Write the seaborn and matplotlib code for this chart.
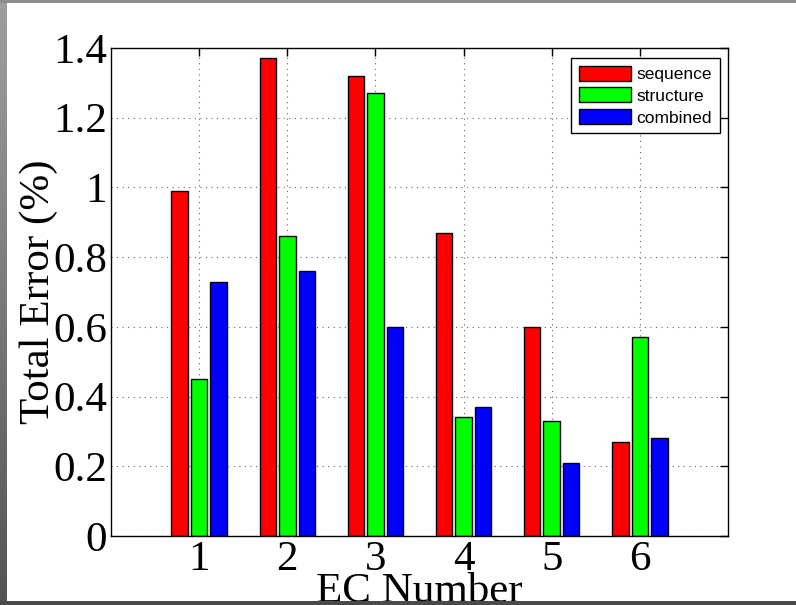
import numpy as np
import pandas as pd
import matplotlib
matplotlib.use("Agg")
import matplotlib.pyplot as plt
import seaborn as sns

# Total classification error per EC class, for each feature set
ec_numbers = ["1", "2", "3", "4", "5", "6"]
sequence = [0.99, 1.37, 1.32, 0.87, 0.60, 0.27]
structure = [0.45, 0.86, 1.27, 0.34, 0.33, 0.57]
combined = [0.73, 0.76, 0.60, 0.37, 0.21, 0.28]
series_names = ["sequence", "structure", "combined"]
series_colors = ["#ff0000", "#00ff00", "#0000ff"]
y_ticks = [0, 0.2, 0.4, 0.6, 0.8, 1.0, 1.2, 1.4]
y_tick_labels = ["0", "0.2", "0.4", "0.6", "0.8", "1", "1.2", "1.4"]

df = pd.DataFrame({
    "EC": ec_numbers * 3,
    "error": sequence + structure + combined,
    "features": [s for s in series_names for _ in ec_numbers],
})

sns.set_style("white")
plt.rcParams.update({
    "text.color": "black",
    "axes.labelcolor": "black",
    "xtick.color": "black",
    "ytick.color": "black",
})
serif = ["Liberation Serif", "DejaVu Serif"]
sans = ["Liberation Sans", "DejaVu Sans"]

fig = plt.figure(figsize=(7.96, 6.05), dpi=100, facecolor="white")
W, H = 796, 605
ax = fig.add_axes([111 / W, 1 - 536 / H, (728 - 111) / W, (536 - 48) / H])

sns.barplot(data=df, x="EC", y="error", hue="features", order=ec_numbers,
            hue_order=series_names, palette=series_colors, width=0.664,
            gap=0.154, edgecolor="black", linewidth=1.0, saturation=1,
            ax=ax, legend=True)

ax.set_xlim(-1, 6)
ax.set_ylim(0, 1.4)
ax.set_yticks(y_ticks)
ax.set_yticklabels(y_tick_labels)
ax.set_xticks(range(len(ec_numbers)))
ax.set_xticklabels(ec_numbers)
for lbl in ax.get_xticklabels() + ax.get_yticklabels():
    lbl.set_fontfamily(serif)
    lbl.set_fontsize(31)
    lbl.set_color("black")

ax.tick_params(direction="in", length=6, width=1, top=True, right=True,
               color="black", pad=3)
ax.grid(True, linestyle=(0, (1, 4)), color="#666666", linewidth=0.8)
ax.set_axisbelow(True)
for sp in ax.spines.values():
    sp.set_visible(True)
    sp.set_color("black")
    sp.set_linewidth(1.0)

ax.set_xlabel("EC Number", fontfamily=serif, fontsize=31, color="black")
ax.set_ylabel("Total Error (%)", fontfamily=serif, fontsize=31, color="black")
ax.xaxis.set_label_coords(0.5, -0.075)
ax.yaxis.set_label_coords(-0.086, 0.5)

handles, labels = ax.get_legend_handles_labels()
leg = ax.legend(handles, labels, loc="upper right",
                bbox_to_anchor=((720 - 111) / 617, (536 - 58) / 488),
                borderaxespad=0, prop={"family": sans, "size": 12.5},
                handlelength=3.05, handleheight=0.95, handletextpad=0.3,
                labelspacing=0.3, borderpad=0.45, fancybox=False,
                framealpha=1, edgecolor="black")
leg.get_frame().set_linewidth(1.0)
for t in leg.get_texts():
    t.set_color("black")

# Gray window border
fig.patches.append(plt.Rectangle((0, 1 - 3 / H), 1, 3 / H, transform=fig.transFigure,
                                 facecolor="#8c8c8c", edgecolor="none", zorder=5))
fig.patches.append(plt.Rectangle((0, 0), 1, 4 / H, transform=fig.transFigure,
                                 facecolor="#4a4a4a", edgecolor="none", zorder=5))
grad_ax = fig.add_axes([0, 0, 7 / W, 1])
grad = np.linspace(0.62, 0.33, 256).reshape(-1, 1)
grad_ax.imshow(grad, aspect="auto", cmap="gray", vmin=0, vmax=1,
               extent=[0, 1, 0, 1], origin="upper")
grad_ax.axis("off")

fig.savefig("out.png", dpi=100, facecolor="white")
